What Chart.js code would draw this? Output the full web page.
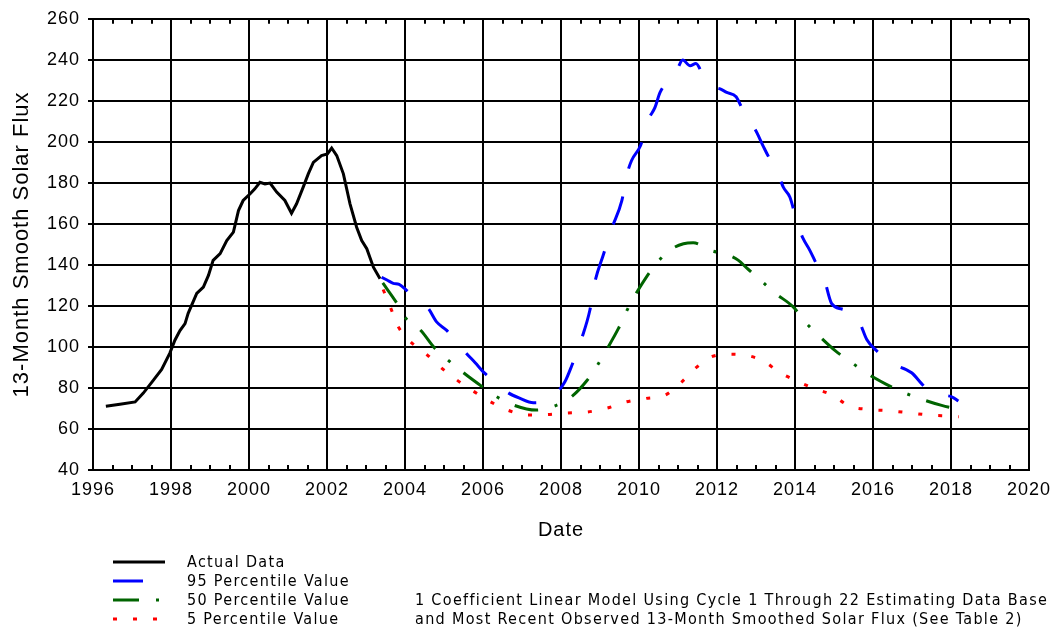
<!DOCTYPE html>
<html>
<head>
<meta charset="utf-8">
<script src="https://cdn.jsdelivr.net/npm/chart.js@4.4.1/dist/chart.umd.min.js"></script>
<style>
  body { margin: 0; background: #fff; }
  #wrap { position: relative; width: 1061px; height: 630px; overflow: hidden; }
  #chart { position: absolute; left: 0; top: 0; }
  .leg { position: absolute; height: 19px; line-height: 19px; white-space: nowrap;
         font-family: "Liberation Sans Narrow", "DejaVu Sans Condensed", sans-serif;
         font-size: 16px; color: #000; }
  .leg svg { position: absolute; left: 0; top: 0; }
  .leg span { position: absolute; left: 74px; top: 0; }
</style>
</head>
<body>
<div id="wrap">
  <canvas id="chart" width="1061" height="630"></canvas>

  <div class="leg" style="left:113px; top:552px;">
    <svg width="56" height="19"><line x1="0" y1="10" x2="52" y2="10" stroke="#000" stroke-width="3"/></svg>
    <span>Actual Data</span>
  </div>
  <div class="leg" style="left:113px; top:571px;">
    <svg width="56" height="19"><line x1="0" y1="10" x2="52" y2="10" stroke="#0000ff" stroke-width="3" stroke-dasharray="30 28"/></svg>
    <span>95 Percentile Value</span>
  </div>
  <div class="leg" style="left:113px; top:590px;">
    <svg width="56" height="19"><line x1="0" y1="10" x2="52" y2="10" stroke="#006400" stroke-width="3" stroke-dasharray="26 17 3 17"/></svg>
    <span>50 Percentile Value</span>
  </div>
  <div class="leg" style="left:113px; top:609px;">
    <svg width="56" height="19"><line x1="0" y1="10" x2="52" y2="10" stroke="#ff0000" stroke-width="3" stroke-dasharray="4 16"/></svg>
    <span>5 Percentile Value</span>
  </div>
  <div class="leg" id="note1" style="left:415px; top:590px;">1 Coefficient Linear Model Using Cycle 1 Through 22 Estimating Data Base</div>
  <div class="leg" id="note2" style="left:415px; top:609px;">and Most Recent Observed 13-Month Smoothed Solar Flux (See Table 2)</div>
</div>

<script>
// valeurs
var yearTicks = [1996, 1998, 2000, 2002, 2004, 2006, 2008, 2010, 2012, 2014, 2016, 2018, 2020];
var fluxTicks = [40, 60, 80, 100, 120, 140, 160, 180, 200, 220, 240, 260];

var actualYears = [1996.33, 1996.69, 1997.08, 1997.29, 1997.55, 1997.76, 1997.97, 1998.1, 1998.23, 1998.36,
  1998.44, 1998.66, 1998.83, 1998.96, 1999.08, 1999.26, 1999.43, 1999.6, 1999.73, 1999.85,
  2000.03, 2000.15, 2000.28, 2000.41, 2000.54, 2000.71, 2000.92, 2001.09, 2001.22, 2001.39,
  2001.52, 2001.65, 2001.86, 2002.01, 2002.12, 2002.25, 2002.42, 2002.59, 2002.76, 2002.89,
  2003.02, 2003.19, 2003.36];
var actualFlux = [71.1, 72.1, 73.2, 77.5, 83.8, 89, 97, 103.3, 108, 111.4,
  116.4, 126.1, 129.2, 134.9, 142.2, 145.5, 151.9, 156, 166.5, 171.4,
  174.7, 177.1, 180.3, 179.5, 179.9, 175.5, 171.4, 165.2, 169.8, 177.9,
  184.4, 190, 193.3, 194.1, 197, 193.3, 184.4, 169.8, 158.4, 151.9,
  147.9, 138.9, 133.3];

var p95Years = [2003.4, 2003.55, 2003.7, 2003.85, 2004.04, 2004.3, 2004.6, 2004.81, 2005.07, 2005.3,
  2005.54, 2005.8, 2006.05, 2006.35, 2006.61, 2006.95, 2007.29, 2007.6, 2007.93, 2008.1,
  2008.27, 2008.53, 2008.74, 2008.87, 2009.08, 2009.3, 2009.56, 2009.7, 2009.81, 2010.04,
  2010.24, 2010.41, 2010.54, 2010.75, 2010.97, 2011.12, 2011.31, 2011.46, 2011.65, 2011.84,
  2012.08, 2012.25, 2012.49, 2012.65, 2012.83, 2012.97, 2013.19, 2013.37, 2013.55, 2013.7,
  2013.87, 2014.06, 2014.21, 2014.38, 2014.55, 2014.73, 2014.94, 2015.2, 2015.5, 2015.67,
  2015.84, 2016.1, 2016.33, 2016.52, 2016.99, 2017.25, 2017.48, 2017.76, 2018.02, 2018.19];
var p95Flux = [134, 132.5, 131, 130.5, 127.6, 123.5, 118.7, 112.2, 108.1, 103,
  97.6, 92.3, 87.1, 82.5, 78.1, 74.9, 72.8, 73.5, 78.6, 83,
  90.6, 104.1, 117.9, 131.7, 144.6, 157.6, 171.4, 184.7, 190.9, 198.2,
  210.7, 216.8, 224.1, 230, 235, 239.9, 237.1, 238.2, 232, 227.4,
  225.8, 224.1, 222, 216, 209.5, 206.3, 197.7, 191, 185.2, 177.9,
  173, 160.1, 152.8, 147.1, 140.5, 134.4, 121.1, 118.5, 116.6, 111.4,
  103.6, 98, 93.9, 91.6, 87.4, 82, 77.6, 76.5, 75.7, 73.6];

var p50Years = [2003.43, 2003.79, 2004.03, 2004.4, 2004.77, 2005.11, 2005.5, 2006.01, 2006.35, 2006.79,
  2007.36, 2007.85, 2008.25, 2008.66, 2008.93, 2009.17, 2009.47, 2009.67, 2009.9, 2010.21,
  2010.5, 2010.85, 2011.14, 2011.39, 2011.84, 2012.32, 2012.55, 2012.76, 2013.12, 2013.5,
  2013.96, 2014.26, 2014.6, 2015.03, 2015.43, 2015.82, 2016.33, 2016.76, 2017.22, 2017.76, 2018.21];
var p50Flux = [131.2, 121.4, 113.8, 108.1, 99.2, 93.5, 87.4, 80.2, 75.7, 71.6,
  69.2, 71.3, 75.4, 83.5, 91, 98.7, 108.9, 117, 125.2, 134.7,
  141.9, 147.9, 150.3, 150.8, 147.1, 144.6, 142.2, 138.5, 132.5, 126.1,
  119.4, 112.2, 105.7, 98.2, 92.7, 87.4, 81.9, 78, 74.7, 71.5, 69.5];

var p5Years = [2003.44, 2003.64, 2003.83, 2004.12, 2004.53, 2004.9, 2005.3, 2005.74, 2006.16, 2006.63,
  2007.14, 2007.66, 2008.16, 2008.68, 2009.19, 2009.67, 2010.18, 2010.67, 2011.07, 2011.44,
  2011.85, 2012.31, 2012.79, 2013.23, 2013.57, 2014.03, 2014.49, 2014.96, 2015.39, 2015.9,
  2016.41, 2016.92, 2017.44, 2017.96, 2018.2];
var p5Flux = [128, 118.7, 109.8, 102.9, 96.8, 90.3, 84.3, 78.6, 73.6, 69.2,
  66.8, 67, 67.8, 68.3, 70.2, 73.2, 74.9, 76.5, 82.5, 89.5,
  95.1, 96.5, 95.8, 92.7, 88, 83.5, 79.8, 76.5, 71.2, 69.5,
  68.9, 67.9, 66.8, 66.3, 66];

function pts(xs, ys) {
  return xs.map(function (x, i) { return { x: x, y: ys[i] }; });
}

// espacement des lettres de la légende, calé sur la largeur de la note
var note = document.getElementById('note1');
var natural = note.getBoundingClientRect().width;
var ls = (633 - natural) / note.textContent.length;
document.querySelectorAll('.leg span, #note1, #note2').forEach(function (el) {
  el.style.letterSpacing = ls + 'px';
});

Chart.defaults.font.family = '"Liberation Sans", Arial, sans-serif';
Chart.defaults.color = '#000';

// petites graduations tous les 6 mois, vers l'intérieur
var minorTicks = {
  id: 'minorTicks',
  beforeDraw: function (chart) {
    chart.ctx.letterSpacing = '1px';
  },
  afterDatasetsDraw: function (chart) {
    var ctx = chart.ctx, area = chart.chartArea, x = chart.scales.x;
    ctx.save();
    ctx.strokeStyle = '#000';
    ctx.lineWidth = 2;
    ctx.beginPath();
    for (var v = x.min + 0.5; v < x.max; v += 0.5) {
      if (v % 2 === 0) continue;
      var px = Math.round(x.getPixelForValue(v));
      ctx.moveTo(px, area.bottom); ctx.lineTo(px, area.bottom - 5);
      ctx.moveTo(px, area.top); ctx.lineTo(px, area.top + 5);
    }
    ctx.stroke();
    ctx.restore();
  }
};

var ctx = document.getElementById('chart').getContext('2d');
new Chart(ctx, {
  type: 'line',
  data: {
    datasets: [
      { label: 'Actual Data', data: pts(actualYears, actualFlux), borderColor: '#000000',
        borderWidth: 3, pointRadius: 0, tension: 0 },
      { label: '95 Percentile Value', data: pts(p95Years, p95Flux), borderColor: '#0000ff',
        borderWidth: 3, pointRadius: 0, borderDash: [30, 28], cubicInterpolationMode: 'monotone' },
      { label: '50 Percentile Value', data: pts(p50Years, p50Flux), borderColor: '#006400',
        borderWidth: 3, pointRadius: 0, borderDash: [24, 17, 3, 17], cubicInterpolationMode: 'monotone' },
      { label: '5 Percentile Value', data: pts(p5Years, p5Flux), borderColor: '#ff0000',
        borderWidth: 3, pointRadius: 0, borderDash: [4, 16], cubicInterpolationMode: 'monotone' }
    ]
  },
  options: {
    responsive: false,
    animation: false,
    devicePixelRatio: 1,
    layout: { padding: { top: 18, right: 32, bottom: 85, left: 0 } },
    plugins: { legend: { display: false }, tooltip: { enabled: false } },
    scales: {
      x: {
        type: 'linear', min: 1996, max: 2020,
        afterBuildTicks: function (s) { s.ticks = yearTicks.map(function (v) { return { value: v }; }); },
        afterFit: function (s) { s.height = 75; },
        ticks: { font: { size: 18 }, padding: 9, maxRotation: 0,
                 callback: function (v) { return String(v); } },
        grid: { color: '#000', lineWidth: 2, drawTicks: false },
        border: { color: '#000', width: 2 },
        title: { display: true, text: 'Date', font: { size: 20 }, padding: { top: 0, bottom: 3 } }
      },
      y: {
        min: 40, max: 260,
        afterBuildTicks: function (s) { s.ticks = fluxTicks.map(function (v) { return { value: v }; }); },
        afterFit: function (s) { s.width = 93; },
        ticks: { font: { size: 18 }, padding: 8 },
        grid: { color: '#000', lineWidth: 2, tickLength: 5 },
        border: { color: '#000', width: 2 },
        title: { display: true, text: '13-Month Smooth Solar Flux', font: { size: 22 }, padding: { top: 9, bottom: 0 } }
      }
    }
  },
  plugins: [minorTicks]
});
</script>
</body>
</html>
